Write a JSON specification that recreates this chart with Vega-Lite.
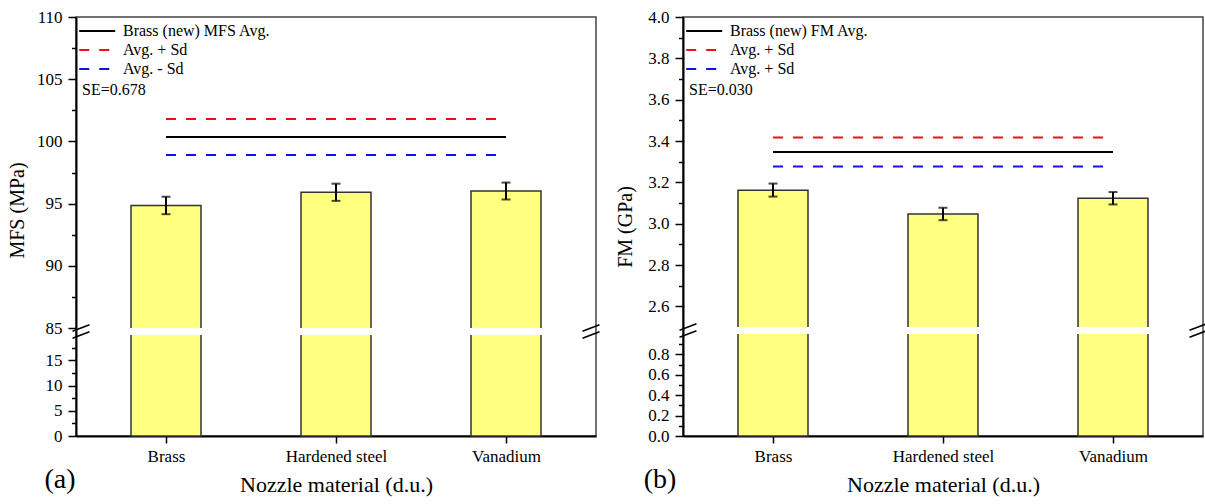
{
  "$schema": "https://vega.github.io/schema/vega-lite/v6.json",
  "background": "white",
  "padding": {"left": 6, "top": 7, "right": 5, "bottom": 5},
  "datasets": {
    "a_bars": [
      {"pos": 1, "mat": "Brass", "val": 94.85, "lo": 94.15, "hi": 95.55},
      {"pos": 2, "mat": "Hardened steel", "val": 95.91, "lo": 95.22, "hi": 96.6},
      {"pos": 3, "mat": "Vanadium", "val": 96.01, "lo": 95.33, "hi": 96.69}
    ],
    "a_lines": [
      {"k": "a", "val": 100.35},
      {"k": "p", "val": 101.8},
      {"k": "m", "val": 98.9}
    ],
    "a_breaks": [
      {"bx": 0.5, "by": 85}, {"bx": 0.5, "by": 20},
      {"bx": 3.5, "by": 85}, {"bx": 3.5, "by": 20}
    ],
    "b_bars": [
      {"pos": 1, "mat": "Brass", "val": 3.162, "lo": 3.131, "hi": 3.194},
      {"pos": 2, "mat": "Hardened steel", "val": 3.047, "lo": 3.017, "hi": 3.077},
      {"pos": 3, "mat": "Vanadium", "val": 3.123, "lo": 3.093, "hi": 3.153}
    ],
    "b_lines": [
      {"k": "a", "val": 3.347},
      {"k": "p", "val": 3.417},
      {"k": "m", "val": 3.277}
    ],
    "b_breaks": [
      {"bx": 0.5, "by": 2.5}, {"bx": 0.5, "by": 1.0},
      {"bx": 3.5, "by": 2.5}, {"bx": 3.5, "by": 1.0}
    ],
    "gap": [{"g": 1}]
  },
  "hconcat": [
    {
      "width": 520,
      "height": 419,
      "title": {"text": "(a)", "orient": "bottom", "anchor": "start", "frame": "bounds", "fontSize": 28, "fontWeight": "normal", "offset": -29, "dx": 37, "color": "black"},
      "resolve": {"axis": {"y": "independent"}},
      "layer": [
        {
          "data": {"name": "a_bars"},
          "mark": {"type": "bar", "orient": "vertical", "width": 70, "fill": "#ffff80", "stroke": "#333333", "strokeWidth": 1.5},
          "encoding": {
            "x": {"field": "pos", "type": "quantitative",
              "scale": {"domain": [0.5, 3.5], "nice": false, "zero": false},
              "axis": {"values": [1, 2, 3], "labelExpr": "['', 'Brass', 'Hardened steel', 'Vanadium'][datum.value]", "title": "Nozzle material (d.u.)", "titleFontSize": 22, "tickSize": 7, "labelPadding": 5, "titlePadding": 10}},
            "y": {"field": "val", "type": "quantitative",
              "scale": {"domain": [0, 20, 85, 110], "range": [419, 318, 311, 0], "nice": false, "zero": false},
              "axis": {"orient": "left", "values": [0, 5, 10, 15, 85, 90, 95, 100, 105, 110],
                "tickSize": 8, "labelOverlap": false, "labelPadding": 6, "title": "MFS (MPa)", "titlePadding": 9, "titleY": 193}},
            "y2": {"datum": 0}
          }
        },
        {
          "data": {"name": "a_bars"},
          "mark": {"type": "errorbar", "ticks": {"size": 9, "thickness": 2, "color": "black"}, "rule": {"strokeWidth": 2, "color": "black"}},
          "encoding": {
            "x": {"field": "pos", "type": "quantitative"},
            "y": {"field": "lo", "type": "quantitative", "axis": null},
            "y2": {"field": "hi"}
          }
        },
        {
          "data": {"name": "a_lines"},
          "mark": {"type": "rule", "strokeWidth": 2},
          "encoding": {
            "x": {"datum": 1},
            "x2": {"datum": 3},
            "y": {"field": "val", "type": "quantitative", "axis": null},
            "color": {"field": "k", "type": "nominal",
              "scale": {"domain": ["a", "p", "m"], "range": ["black", "#ee1111", "#1111ee"]},
              "legend": {"orient": "top-left", "title": "SE=0.678", "titleOrient": "bottom",
                "labelExpr": "datum.value == 'a' ? 'Brass (new) MFS Avg.' : datum.value == 'p' ? 'Avg. + Sd' : 'Avg. - Sd'"}},
            "strokeDash": {"field": "k", "type": "nominal",
              "scale": {"domain": ["a", "p", "m"], "range": [[1, 0], [10, 10], [10, 10]]}}
          }
        },
        {
          "data": {"name": "gap"},
          "mark": {"type": "rect", "fill": "white"},
          "encoding": {
            "x": {"datum": 0.49},
            "x2": {"datum": 3.51},
            "y": {"datum": 20, "axis": null},
            "y2": {"datum": 85}
          }
        },
        {
          "data": {"name": "a_breaks"},
          "mark": {"type": "point", "shape": "M-1,0.38L1,-0.38", "size": 289, "filled": false, "stroke": "black", "strokeWidth": 1.5, "opacity": 1},
          "encoding": {
            "x": {"field": "bx", "type": "quantitative"},
            "y": {"field": "by", "type": "quantitative",
              "axis": {"orient": "left", "values": [2.5, 7.5, 12.5, 17.5, 87.5, 92.5, 97.5, 102.5, 107.5], "labels": false, "domain": false, "tickSize": 4.5, "title": null}}
          }
        }
      ]
    },
    {
      "width": 520,
      "height": 419,
      "title": {"text": "(b)", "orient": "bottom", "anchor": "start", "frame": "bounds", "fontSize": 28, "fontWeight": "normal", "offset": -29, "dx": 28, "color": "black"},
      "resolve": {"axis": {"y": "independent"}},
      "layer": [
        {
          "data": {"name": "b_bars"},
          "mark": {"type": "bar", "orient": "vertical", "width": 70, "fill": "#ffff80", "stroke": "#333333", "strokeWidth": 1.5},
          "encoding": {
            "x": {"field": "pos", "type": "quantitative",
              "scale": {"domain": [0.5, 3.5], "nice": false, "zero": false},
              "axis": {"values": [1, 2, 3], "labelExpr": "['', 'Brass', 'Hardened steel', 'Vanadium'][datum.value]", "title": "Nozzle material (d.u.)", "titleFontSize": 22, "tickSize": 7, "labelPadding": 5, "titlePadding": 10}},
            "y": {"field": "val", "type": "quantitative",
              "scale": {"domain": [0, 1.0, 2.5, 4.0], "range": [419, 317, 310, 0], "nice": false, "zero": false},
              "axis": {"orient": "left", "values": [0, 0.2, 0.4, 0.6, 0.8, 2.6, 2.8, 3.0, 3.2, 3.4, 3.6, 3.8, 4.0], "format": ".1f",
                "tickSize": 8, "labelOverlap": false, "labelPadding": 6, "title": "FM (GPa)", "titlePadding": 12}},
            "y2": {"datum": 0}
          }
        },
        {
          "data": {"name": "b_bars"},
          "mark": {"type": "errorbar", "ticks": {"size": 9, "thickness": 2, "color": "black"}, "rule": {"strokeWidth": 2, "color": "black"}},
          "encoding": {
            "x": {"field": "pos", "type": "quantitative"},
            "y": {"field": "lo", "type": "quantitative", "axis": null},
            "y2": {"field": "hi"}
          }
        },
        {
          "data": {"name": "b_lines"},
          "mark": {"type": "rule", "strokeWidth": 2},
          "encoding": {
            "x": {"datum": 1},
            "x2": {"datum": 3},
            "y": {"field": "val", "type": "quantitative", "axis": null},
            "color": {"field": "k", "type": "nominal",
              "scale": {"domain": ["a", "p", "m"], "range": ["black", "#ee1111", "#1111ee"]},
              "legend": {"orient": "top-left", "title": "SE=0.030", "titleOrient": "bottom",
                "labelExpr": "datum.value == 'a' ? 'Brass (new) FM Avg.' : 'Avg. + Sd'"}},
            "strokeDash": {"field": "k", "type": "nominal",
              "scale": {"domain": ["a", "p", "m"], "range": [[1, 0], [10, 10], [10, 10]]}}
          }
        },
        {
          "data": {"name": "gap"},
          "mark": {"type": "rect", "fill": "white"},
          "encoding": {
            "x": {"datum": 0.49},
            "x2": {"datum": 3.51},
            "y": {"datum": 1.0, "axis": null},
            "y2": {"datum": 2.5}
          }
        },
        {
          "data": {"name": "b_breaks"},
          "mark": {"type": "point", "shape": "M-1,0.38L1,-0.38", "size": 289, "filled": false, "stroke": "black", "strokeWidth": 1.5, "opacity": 1},
          "encoding": {
            "x": {"field": "bx", "type": "quantitative"},
            "y": {"field": "by", "type": "quantitative",
              "axis": {"orient": "left", "values": [0.1, 0.3, 0.5, 0.7, 0.9, 2.7, 2.9, 3.1, 3.3, 3.5, 3.7, 3.9], "labels": false, "domain": false, "tickSize": 4.5, "title": null}}
          }
        }
      ]
    }
  ],
  "spacing": 11,
  "resolve": {"scale": {"color": "independent", "strokeDash": "independent", "x": "independent", "y": "independent"}, "legend": {"color": "independent", "strokeDash": "independent"}},
  "config": {
    "font": "'Liberation Serif', 'Times New Roman', serif",
    "view": {"stroke": "#444444", "strokeWidth": 1.5},
    "axis": {"domainColor": "black", "domainWidth": 2, "tickColor": "black", "tickWidth": 1.5, "labelColor": "black", "labelFont": "'Liberation Serif', 'Times New Roman', serif", "titleFont": "'Liberation Serif', 'Times New Roman', serif", "labelFontSize": 17, "titleFontSize": 20, "titleFontWeight": "normal", "titleColor": "black", "grid": false},
    "legend": {"symbolType": "M-1.8,0H4.2", "symbolSize": 144, "symbolStrokeWidth": 2, "labelFont": "'Liberation Serif', 'Times New Roman', serif", "titleFont": "'Liberation Serif', 'Times New Roman', serif", "labelFontSize": 16, "labelColor": "black", "labelOffset": 25, "rowPadding": 3, "titleFontSize": 16, "titleFontWeight": "normal", "titleColor": "black", "titlePadding": 5, "offset": 6, "padding": 0},
    "title": {"font": "'Liberation Serif', 'Times New Roman', serif"}
  }
}
